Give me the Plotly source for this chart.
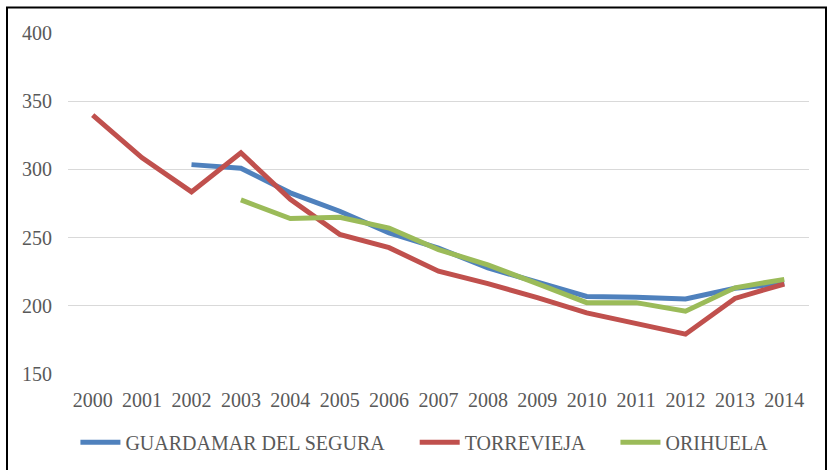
import plotly.graph_objects as go

years = [str(y) for y in range(2000, 2015)]

guardamar = [None, None, 303.5, 300.8, 282.8, 269.3, 253.5, 242.3, 227.8, 217.6, 206.8, 206.3, 205.0, 212.8, 216.5]
torrevieja = [339.8, 308.5, 283.5, 312.2, 278.0, 252.4, 242.6, 225.4, 216.2, 206.0, 194.8, 186.6, 179.2, 205.4, 216.0]
orihuela = [None, None, None, 277.6, 264.0, 264.9, 257.0, 241.2, 230.0, 216.3, 202.3, 202.3, 196.0, 213.2, 219.4]

series_names = ["GUARDAMAR DEL SEGURA", "TORREVIEJA", "ORIHUELA"]
series_values = [guardamar, torrevieja, orihuela]
series_colors = ["#4F81BD", "#C0504D", "#9BBB59"]
legend_pad = ["\u00a0" * 5, "\u00a0" * 5, ""]

fig = go.Figure()
for name, vals, color, pad in zip(series_names, series_values, series_colors, legend_pad):
    fig.add_trace(go.Scatter(
        x=years, y=vals, name=name + pad, mode="lines",
        line=dict(color=color, width=5),
        connectgaps=False, hoverinfo="x+y",
    ))

font_family = "Liberation Serif"
text_color = "#595959"
fsize = 20

fig.update_layout(
    width=827, height=470,
    margin=dict(l=68, r=18, t=33, b=96, autoexpand=False),
    paper_bgcolor="white", plot_bgcolor="white",
    font=dict(family=font_family, size=fsize, color=text_color),
    showlegend=True,
    legend=dict(
        orientation="h", x=0.481, xanchor="center", y=-0.2, yanchor="middle",
        font=dict(family=font_family, size=fsize, color=text_color),
        itemwidth=40, tracegroupgap=0,
    ),
    xaxis=dict(
        type="category", range=[-0.5, 14.5], showgrid=False, showline=False,
        zeroline=False, ticks="", ticklabelstandoff=12,
        tickfont=dict(family=font_family, size=fsize, color=text_color),
    ),
    yaxis=dict(
        range=[150, 400], dtick=50, tick0=150, showgrid=True,
        gridcolor="#D9D9D9", gridwidth=1.3, zeroline=False, showline=False,
        ticks="", ticklabelstandoff=15,
        tickfont=dict(family=font_family, size=fsize, color=text_color),
    ),
    shapes=[dict(
        type="rect", xref="paper", yref="paper",
        x0=(7 - 68) / 741, x1=(826 - 68) / 741,
        y0=(374 - 480) / 340.5, y1=(374 - 8) / 340.5,
        line=dict(color="black", width=2), fillcolor="rgba(0,0,0,0)",
        layer="below",
    )],
)

fig.write_html("out.html", config={"displayModeBar": False},
               post_script="document.body.style.margin='0';")
